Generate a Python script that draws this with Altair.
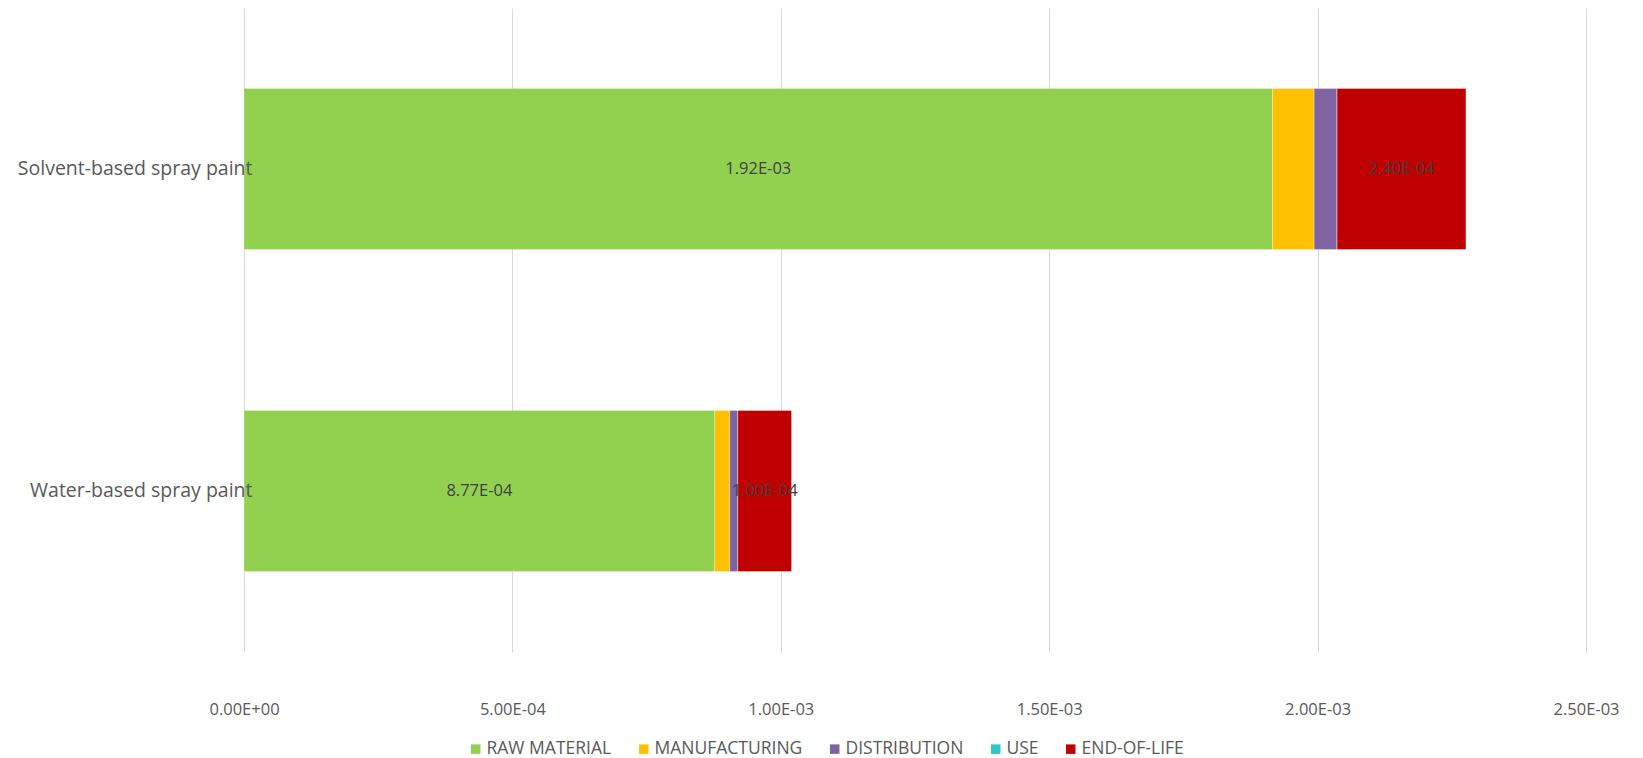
import altair as alt
import pandas as pd

# Life-cycle stage contributions per product
products = ["Solvent-based spray paint", "Water-based spray paint"]
stages = ["RAW MATERIAL", "MANUFACTURING", "DISTRIBUTION", "USE", "END-OF-LIFE"]
stage_colors = ["#92D050", "#FFC000", "#8064A2", "#2FC6C8", "#C00000"]

solvent_values = [1.916e-3, 7.75e-5, 4.28e-5, 0.0, 2.40e-4]
water_values = [8.77e-4, 2.80e-5, 1.49e-5, 0.0, 1.00e-4]

labelled_stages = ["RAW MATERIAL", "END-OF-LIFE"]
x_ticks = [0.0, 5e-4, 1e-3, 1.5e-3, 2e-3, 2.5e-3]

rows = []
for product, values in zip(products, [solvent_values, water_values]):
    for i, (stage, v) in enumerate(zip(stages, values)):
        rows.append({
            "product": product,
            "stage": stage,
            "order": i,
            "value": v,
            "label": f"{v:.2E}" if stage in labelled_stages else "",
        })
df = pd.DataFrame(rows)

FONT = "Open Sans"

sci_label = (
    "datum.value == 0 ? '0.00E+00' : "
    "format(datum.value / pow(10, floor(log(datum.value) / LN10 + 1e-9)), '.2f') + 'E' + "
    "(floor(log(datum.value) / LN10 + 1e-9) < 0 ? '-' : '+') + "
    "(abs(floor(log(datum.value) / LN10 + 1e-9)) < 10 ? '0' : '') + "
    "abs(floor(log(datum.value) / LN10 + 1e-9))"
)

y_enc = alt.Y(
    "product:N",
    sort=products,
    title=None,
    scale=alt.Scale(paddingInner=0.5, paddingOuter=0.25),
    axis=alt.Axis(
        domain=False, ticks=False, grid=False, zindex=1,
        labelFont=FONT, labelFontSize=19.5, labelColor="#595959",
        labelPadding=-8, labelLimit=400,
    ),
)

bars = alt.Chart(df).mark_bar(stroke="#ffffff", strokeWidth=0.6, strokeOpacity=0.5).encode(
    x=alt.X(
        "value:Q",
        stack="zero",
        title=None,
        scale=alt.Scale(domain=[0, 2.5e-3], nice=False),
        axis=alt.Axis(
            values=x_ticks, labelExpr=sci_label,
            domain=False, ticks=False, labelFlush=False,
            grid=True, gridColor="#D9D9D9", gridWidth=1,
            labelFont=FONT, labelFontSize=16.5, labelColor="#595959",
            labelPadding=49,
        ),
    ),
    y=y_enc,
    color=alt.Color(
        "stage:N",
        sort=stages,
        scale=alt.Scale(domain=stages, range=stage_colors),
        legend=alt.Legend(
            title=None, orient="none", direction="horizontal",
            legendX=223, legendY=732,
            symbolType="square", symbolSize=90, symbolStrokeWidth=0,
            labelFont=FONT, labelFontSize=17.5, labelColor="#595959",
            labelOffset=2, columnPadding=23,
        ),
    ),
    order=alt.Order("order:Q"),
)

labels = alt.Chart(df).transform_stack(
    stack="value", groupby=["product"], as_=["x0", "x1"],
    sort=[alt.SortField("order", order="ascending")],
).transform_filter(
    alt.FieldOneOfPredicate(field="stage", oneOf=labelled_stages)
).transform_calculate(
    mid="(datum.x0 + datum.x1) / 2"
).mark_text(font=FONT, fontSize=16.5, color="#404040").encode(
    x=alt.X("mid:Q"),
    y=alt.Y("product:N", sort=products),
    text="label:N",
)

chart = alt.layer(bars, labels).properties(
    width=1342,
    height=644,
    background="#ffffff",
    autosize=alt.AutoSizeParams(type="none"),
    padding={"left": 244, "top": 8, "right": 57, "bottom": 106},
).configure_view(strokeWidth=0)

chart.save("out.html", embed_options={"renderer": "svg", "actions": False})
